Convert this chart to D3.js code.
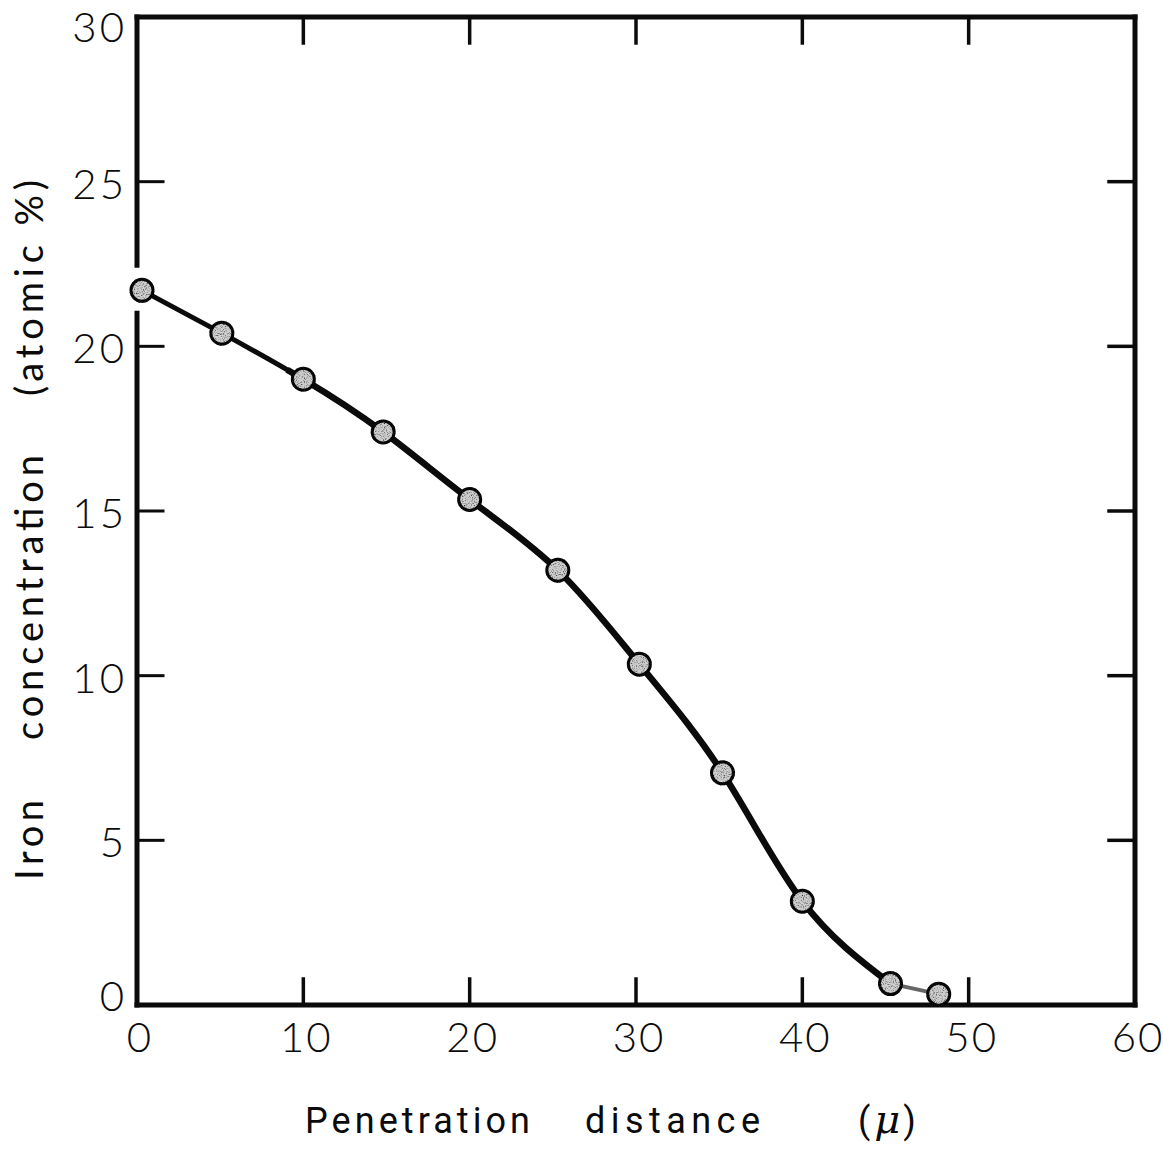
<!DOCTYPE html>
<html>
<head>
<meta charset="utf-8">
<script src="https://cdn.jsdelivr.net/npm/d3@7"></script>
<style>
  html, body { margin: 0; padding: 0; background: #fff; }
  svg { display: block; }
</style>
</head>
<body>
<svg id="chart" width="1163" height="1154"></svg>
<script>
// Iron concentration profile versus penetration distance
const distance = [0.3, 5.1, 10.0, 14.8, 20.0, 25.3, 30.2, 35.2, 40.0, 45.3, 48.2];
const ironPct  = [21.7, 20.4, 19.0, 17.4, 15.35, 13.2, 10.35, 7.05, 3.15, 0.65, 0.33];

const xTicks = [0, 10, 20, 30, 40, 50, 60];
const yTicks = [0, 5, 10, 15, 20, 25, 30];
const xInnerTicks = [10, 20, 30, 40, 50];
const yInnerTicks = [5, 10, 15, 20, 25];

const W = 1163, H = 1154;
const plot = { left: 137, right: 1135, top: 17, bottom: 1005 };

const svg = d3.select("#chart");
svg.append("rect").attr("width", W).attr("height", H).attr("fill", "#fff");

const x = d3.scaleLinear().domain([0, 60]).range([plot.left, plot.right]);
const y = d3.scaleLinear().domain([0, 30]).range([plot.bottom, plot.top]);

// stipple texture for the markers
const defs = svg.append("defs");
const filt = defs.append("filter").attr("id", "stipple").attr("x", "-20%").attr("y", "-20%").attr("width", "140%").attr("height", "140%");
filt.append("feTurbulence").attr("type", "fractalNoise").attr("baseFrequency", 0.9).attr("numOctaves", 1).attr("seed", 3).attr("result", "noise");
filt.append("feColorMatrix").attr("in", "noise").attr("type", "matrix")
  .attr("values", "0 0 0 0 0  0 0 0 0 0  0 0 0 0 0  0 0 0 -3 1.6").attr("result", "dots");
filt.append("feComposite").attr("in", "dots").attr("in2", "SourceGraphic").attr("operator", "in").attr("result", "dotsIn");
filt.append("feMerge").selectAll("feMergeNode").data(["SourceGraphic", "dotsIn"]).join("feMergeNode").attr("in", d => d);

const ink = "#0b0b0b";
const tickFont = "Lato, 'Open Sans', sans-serif";

// frame with ticks on all four sides
const frame = svg.append("g").attr("stroke", ink).attr("fill", "none").attr("stroke-linecap", "square");
const gapTop = y(ironPct[0]) - 25, gapBottom = y(ironPct[0]) + 23;
frame.append("line").attr("x1", plot.left).attr("x2", plot.left).attr("y1", plot.top).attr("y2", gapTop).attr("stroke-width", 5);
frame.append("line").attr("x1", plot.left).attr("x2", plot.left).attr("y1", gapBottom).attr("y2", plot.bottom).attr("stroke-width", 5);
frame.append("line").attr("x1", plot.right).attr("x2", plot.right).attr("y1", plot.top).attr("y2", plot.bottom).attr("stroke-width", 5);
frame.append("line").attr("x1", plot.left).attr("x2", plot.right).attr("y1", plot.top).attr("y2", plot.top).attr("stroke-width", 5);
frame.append("line").attr("x1", plot.left).attr("x2", plot.right).attr("y1", plot.bottom).attr("y2", plot.bottom).attr("stroke-width", 5);

const tl = 26;
xInnerTicks.forEach(v => {
  frame.append("line").attr("x1", x(v)).attr("x2", x(v)).attr("y1", plot.top).attr("y2", plot.top + tl).attr("stroke-width", 3.5);
  frame.append("line").attr("x1", x(v)).attr("x2", x(v)).attr("y1", plot.bottom).attr("y2", plot.bottom - tl).attr("stroke-width", 3.5);
});
yInnerTicks.forEach(v => {
  frame.append("line").attr("x1", plot.left).attr("x2", plot.left + tl).attr("y1", y(v)).attr("y2", y(v)).attr("stroke-width", 3);
  frame.append("line").attr("x1", plot.right).attr("x2", plot.right - tl).attr("y1", y(v)).attr("y2", y(v)).attr("stroke-width", 3.5);
});

// tick labels
const labels = svg.append("g").attr("fill", ink).attr("font-family", tickFont).attr("font-weight", 300).attr("font-size", 42);
labels.selectAll(".xl").data(xTicks).join("text")
  .attr("x", d => x(d) + 3).attr("y", plot.bottom + 47)
  .attr("text-anchor", "middle").attr("letter-spacing", 2).text(d => d);
labels.selectAll(".yl").data(yTicks).join("text")
  .attr("x", plot.left - 10).attr("y", d => y(d) + (d === 30 ? 25 : (d === 0 ? 6 : 17)))
  .attr("text-anchor", "end").attr("letter-spacing", 3).text(d => d);

// profile curve
const idx = d3.range(distance.length);
const last = distance.length - 1;
const lineMain = d3.line().x(i => x(distance[i])).y(i => y(ironPct[i])).curve(d3.curveNatural);
const lineTail = d3.line().x(i => x(distance[i])).y(i => y(ironPct[i])).curve(d3.curveMonotoneX);
svg.append("path").attr("d", lineMain(idx.slice(0, last))).attr("fill", "none").attr("stroke", ink).attr("stroke-width", 5);
svg.append("path").attr("d", lineMain(idx.slice(0, last))).attr("fill", "none").attr("stroke", ink).attr("stroke-width", 6.5)
  .attr("stroke-dasharray", "0 " + (x(distance[2]) - x(distance[0]) + 4) + " 5000");
svg.append("path").attr("d", lineTail(idx.slice(last - 1))).attr("fill", "none").attr("stroke", "#666").attr("stroke-width", 4);

// data markers
svg.append("g").selectAll("circle").data(idx).join("circle")
  .attr("cx", i => x(distance[i])).attr("cy", i => y(ironPct[i])).attr("r", 11)
  .attr("fill", "#cfcfcf").attr("stroke", ink).attr("stroke-width", 3)
  .attr("filter", "url(#stipple)");

// y axis title, word by word
const yTitle = svg.append("g").attr("transform", "translate(43, 0) rotate(-90)")
  .attr("font-family", tickFont).attr("font-weight", 400).attr("font-size", 38).attr("fill", ink);
[["Iron", 880, 80], ["concentration", 740, 285], ["(atomic %)", 396, 216]].forEach(([t, start, len]) => {
  yTitle.append("text").attr("x", -start).attr("y", 0)
    .attr("textLength", len).attr("lengthAdjust", "spacing").text(t);
});

// x axis title
const xTitle = svg.append("g").attr("font-family", "'Roboto', sans-serif").attr("font-size", 36).attr("fill", ink);
[["Penetration", 305, 225], ["distance", 585, 175]].forEach(([t, start, len]) => {
  xTitle.append("text").attr("x", start).attr("y", 1133)
    .attr("textLength", len).attr("lengthAdjust", "spacing").text(t);
});
const mu = xTitle.append("text").attr("x", 858).attr("y", 1133);
mu.append("tspan").text("(");
mu.append("tspan").attr("font-style", "italic").attr("font-family", "'DejaVu Serif', serif").attr("font-size", 40).attr("dx", 4).text("μ");
mu.append("tspan").attr("dx", 3).text(")");
</script>
</body>
</html>
